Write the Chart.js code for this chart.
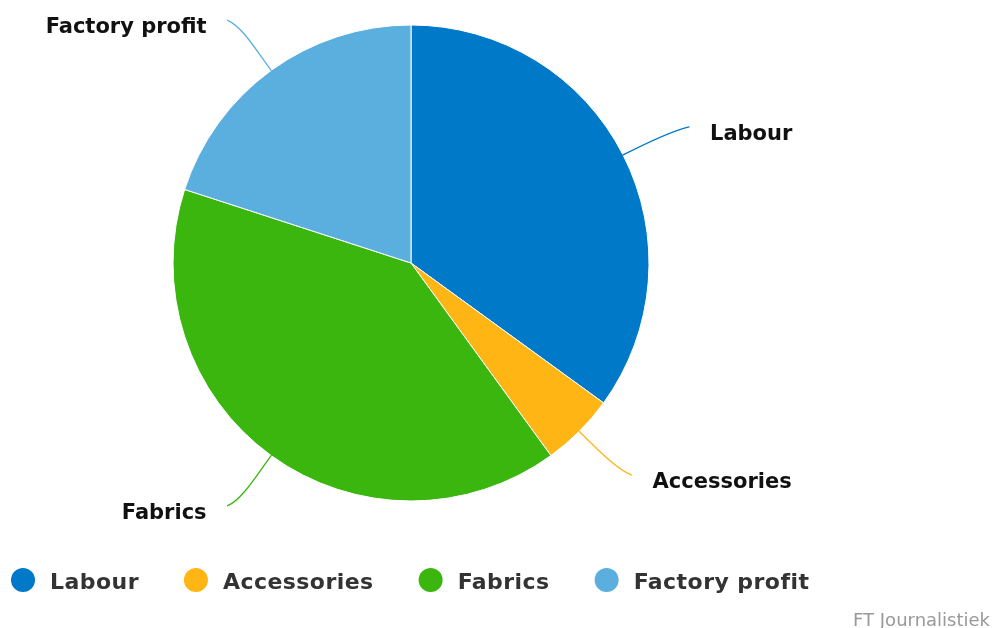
<!DOCTYPE html>
<html><head><meta charset="utf-8">
<script src="https://cdn.jsdelivr.net/npm/chart.js@4/dist/chart.umd.min.js"></script>
<style>html,body{margin:0;padding:0;background:#fff;overflow:hidden}#wrap{width:994px;height:628px;position:relative}</style>
</head><body><div id="wrap"><canvas id="c" width="994" height="628"></canvas></div>
<script>
const categories = ['Labour', 'Accessories', 'Fabrics', 'Factory profit'];
const shares = [35, 5, 40, 20];
const colors = ['#0079c8', '#ffb514', '#3ab60e', '#5aafdf'];
const credit = 'FT Journalistiek';

const FONT = '"DejaVu Sans", Verdana, sans-serif';

const outsideLabels = {
  id: 'outsideLabels',
  afterDatasetsDraw(chart) {
    const ctx = chart.ctx;
    const meta = chart.getDatasetMeta(0);
    ctx.save();
    meta.data.forEach((arc, i) => {
      const p = arc.getProps(['x', 'y', 'startAngle', 'endAngle', 'outerRadius'], true);
      const mid = (p.startAngle + p.endAngle) / 2;
      const c = Math.cos(mid), s = Math.sin(mid);
      const r = p.outerRadius;
      const side = c >= 0 ? 1 : -1;
      const E = { x: p.x + r * c, y: p.y + r * s };
      const C1 = { x: p.x + (r + 28) * c, y: p.y + (r + 28) * s };
      const S = { x: p.x + (r + 74) * c, y: p.y + (r + 62) * s };
      const C2 = { x: S.x - side * 14, y: S.y + (E.y - S.y) * 0.12 };
      ctx.beginPath();
      ctx.moveTo(E.x, E.y);
      ctx.bezierCurveTo(C1.x, C1.y, C2.x, C2.y, S.x, S.y);
      ctx.strokeStyle = colors[i];
      ctx.lineWidth = 1.3;
      ctx.lineCap = 'round';
      ctx.stroke();
      ctx.font = 'bold 21px ' + FONT;
      ctx.fillStyle = '#111';
      ctx.textAlign = side > 0 ? 'left' : 'right';
      ctx.textBaseline = 'alphabetic';
      ctx.fillText(categories[i], S.x + side * 21, S.y + 13);
    });
    ctx.restore();
  },
  afterDraw(chart) {
    const ctx = chart.ctx;
    ctx.save();
    // legend
    ctx.font = 'bold 22px ' + FONT;
    ctx.letterSpacing = '0.45px';
    ctx.textAlign = 'left';
    ctx.textBaseline = 'alphabetic';
    let cx = 23;
    const cy = 580;
    categories.forEach((name, i) => {
      ctx.beginPath();
      ctx.arc(cx, cy, 12, 0, Math.PI * 2);
      ctx.fillStyle = colors[i];
      ctx.fill();
      ctx.fillStyle = '#333';
      const tx = cx + 27;
      ctx.fillText(name, tx, 589);
      cx = tx + ctx.measureText(name).width + 57;
    });
    ctx.letterSpacing = '0px';
    // credit
    ctx.font = '18px ' + FONT;
    ctx.fillStyle = '#999';
    ctx.textAlign = 'right';
    ctx.fillText(credit, 990, 626);
    ctx.restore();
  }
};

new Chart(document.getElementById('c'), {
  type: 'pie',
  data: {
    labels: categories,
    datasets: [{
      data: shares,
      backgroundColor: colors,
      borderColor: '#ffffff',
      borderWidth: 1,
      radius: 238
    }]
  },
  options: {
    responsive: false,
    animation: false,
    devicePixelRatio: 1,
    layout: { padding: { left: 173, right: 345, top: 25, bottom: 127 } },
    plugins: {
      legend: { display: false },
      tooltip: { enabled: false },
      title: { display: false }
    }
  },
  plugins: [outsideLabels]
});
</script>
</body></html>
